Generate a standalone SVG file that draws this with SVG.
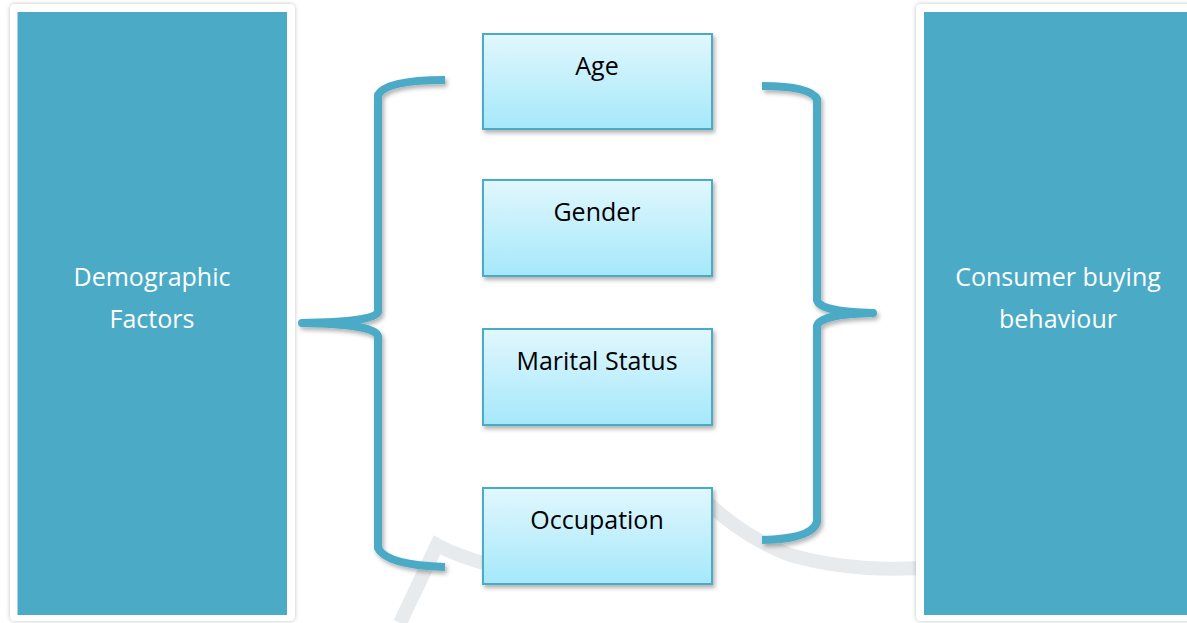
<svg xmlns="http://www.w3.org/2000/svg" width="1187" height="623" viewBox="0 0 1187 623">
<style>
.panel{fill:#4BABC6}
.frame{fill:#fff}
.box{fill:url(#g);stroke:#4BABC6;stroke-width:2}
.brace{fill:none;stroke:#4BABC6;stroke-width:8;stroke-linecap:butt;stroke-linejoin:round}
.lbl{font-family:"Open Sans","Liberation Sans",sans-serif;font-size:25px;text-anchor:middle}
.w{fill:#fff}
.k{fill:#000}
</style>
<defs>
<linearGradient id="g" x1="0" y1="0" x2="0" y2="1">
<stop offset="0" stop-color="#E1F7FD"/>
<stop offset="1" stop-color="#A5E8FB"/>
</linearGradient>
<filter id="sh" x="-10%" y="-10%" width="120%" height="120%">
<feDropShadow dx="2" dy="3" stdDeviation="2" flood-color="#000" flood-opacity="0.3"/>
</filter>
<filter id="fs" x="-5%" y="-5%" width="110%" height="110%">
<feDropShadow dx="0" dy="0" stdDeviation="2" flood-color="#000" flood-opacity="0.25"/>
</filter>
</defs>
<rect width="1187" height="623" fill="#fff"/>
<g id="watermark" fill="none" stroke="#E2E6E8" stroke-width="14" opacity="0.8">
<path d="M400,623 L437,545 Q455,555 490,565"/>
<path d="M705,500 Q740,535 790,555 Q850,572 920,568"/>
</g>
<g id="left-panel">
<rect class="frame" x="10" y="4" width="285" height="617" rx="5" filter="url(#fs)"/>
<rect class="panel" x="17.5" y="12" width="269.5" height="603"/>
<text class="lbl w" x="152" y="286">Demographic</text>
<text class="lbl w" x="152" y="328">Factors</text>
</g>
<g id="right-panel">
<rect class="frame" x="916" y="4" width="285" height="617" rx="5" filter="url(#fs)"/>
<rect class="panel" x="924" y="12" width="270" height="603"/>
<text class="lbl w" x="1058" y="286">Consumer buying</text>
<text class="lbl w" x="1058" y="328">behaviour</text>
</g>
<g id="connectors" filter="url(#sh)">
<path class="brace" d="M445,80 Q386,80 378,95 L378,312 Q374,322 302,323 Q374,324 378,336 L378,548 Q386,565 445,567"/>
<path class="brace" d="M762,86 Q810,86 817,99 L817,300 Q820,312 873,313 Q820,314 817,326 L817,522 Q812,539 762,540"/>
</g>
<g id="node-age">
<rect class="box" x="483" y="34" width="229" height="95" filter="url(#sh)"/>
<text class="lbl k" x="597" y="75">Age</text>
</g>
<g id="node-gender">
<rect class="box" x="483" y="180" width="229" height="96" filter="url(#sh)"/>
<text class="lbl k" x="597" y="221">Gender</text>
</g>
<g id="node-marital">
<rect class="box" x="483" y="329" width="229" height="96" filter="url(#sh)"/>
<text class="lbl k" x="597" y="370">Marital Status</text>
</g>
<g id="node-occupation">
<rect class="box" x="483" y="488" width="229" height="96" filter="url(#sh)"/>
<text class="lbl k" x="597" y="529">Occupation</text>
</g>
</svg>
